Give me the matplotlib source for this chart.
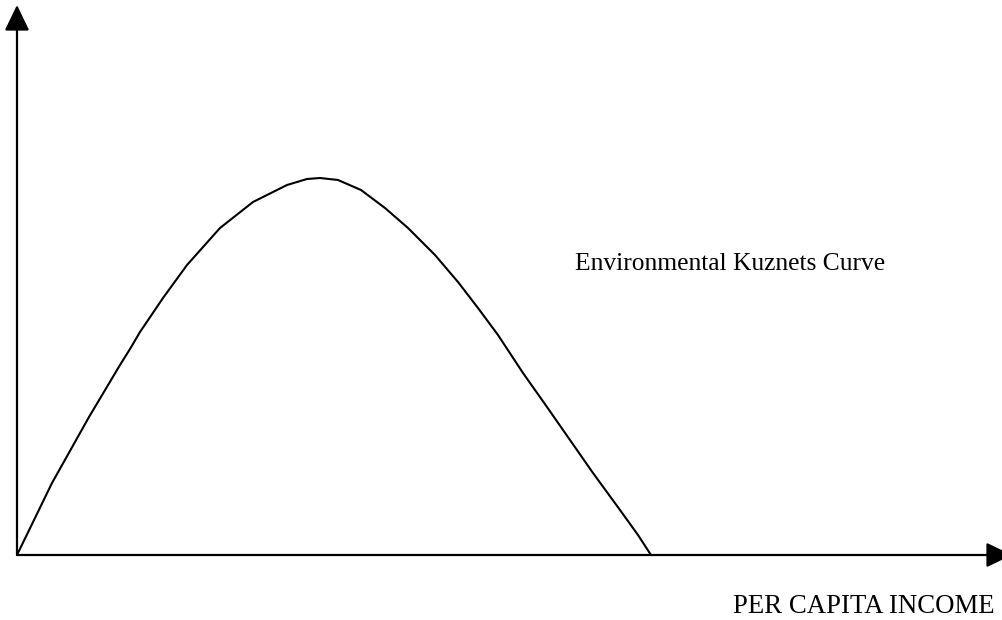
import matplotlib
matplotlib.use("Agg")
import matplotlib.pyplot as plt
import numpy as np

# Environmental Kuznets Curve (arbitrary units, origin at axes intersection)
income = [0, 35, 72, 103, 113, 123, 146, 170, 203, 236, 270, 290, 303, 321, 344, 368, 391,
          418, 441, 461, 481, 506, 530, 553, 576, 603, 621, 634]
degradation = [0, 72, 138, 190, 206, 223, 257, 290, 327, 353, 370, 376, 377, 375, 365, 347,
               327, 300, 273, 247, 220, 182, 148, 115, 82, 45, 20, 0]
curve_label = "Environmental Kuznets Curve"
x_label = "PER CAPITA INCOME"

fig = plt.figure(figsize=(10.03, 6.2), dpi=100)
ax = fig.add_axes([0, 0, 1, 1])
ax.set_xlim(-17, 986)
ax.set_ylim(-65, 555)
ax.axis("off")

ax.plot(income, degradation, color="black", lw=1.5, solid_joinstyle="round",
        solid_capstyle="round")

arrow = dict(arrowstyle="-|>,head_length=1.58,head_width=0.76", color="black",
             lw=1.6, shrinkA=0, shrinkB=0, mutation_scale=10)
ax.annotate("", xy=(995, 0), xytext=(0, 0), arrowprops=arrow, annotation_clip=False)
ax.annotate("", xy=(0, 550), xytext=(0, 0), arrowprops=arrow, annotation_clip=False)

ax.text(558, 285, curve_label, family="Liberation Serif", fontsize=18.4,
        ha="left", va="baseline", color="black")
ax.text(716, -58, x_label, family="Liberation Serif", fontsize=19.3,
        ha="left", va="baseline", color="black")

fig.savefig("out.png", dpi=100)
